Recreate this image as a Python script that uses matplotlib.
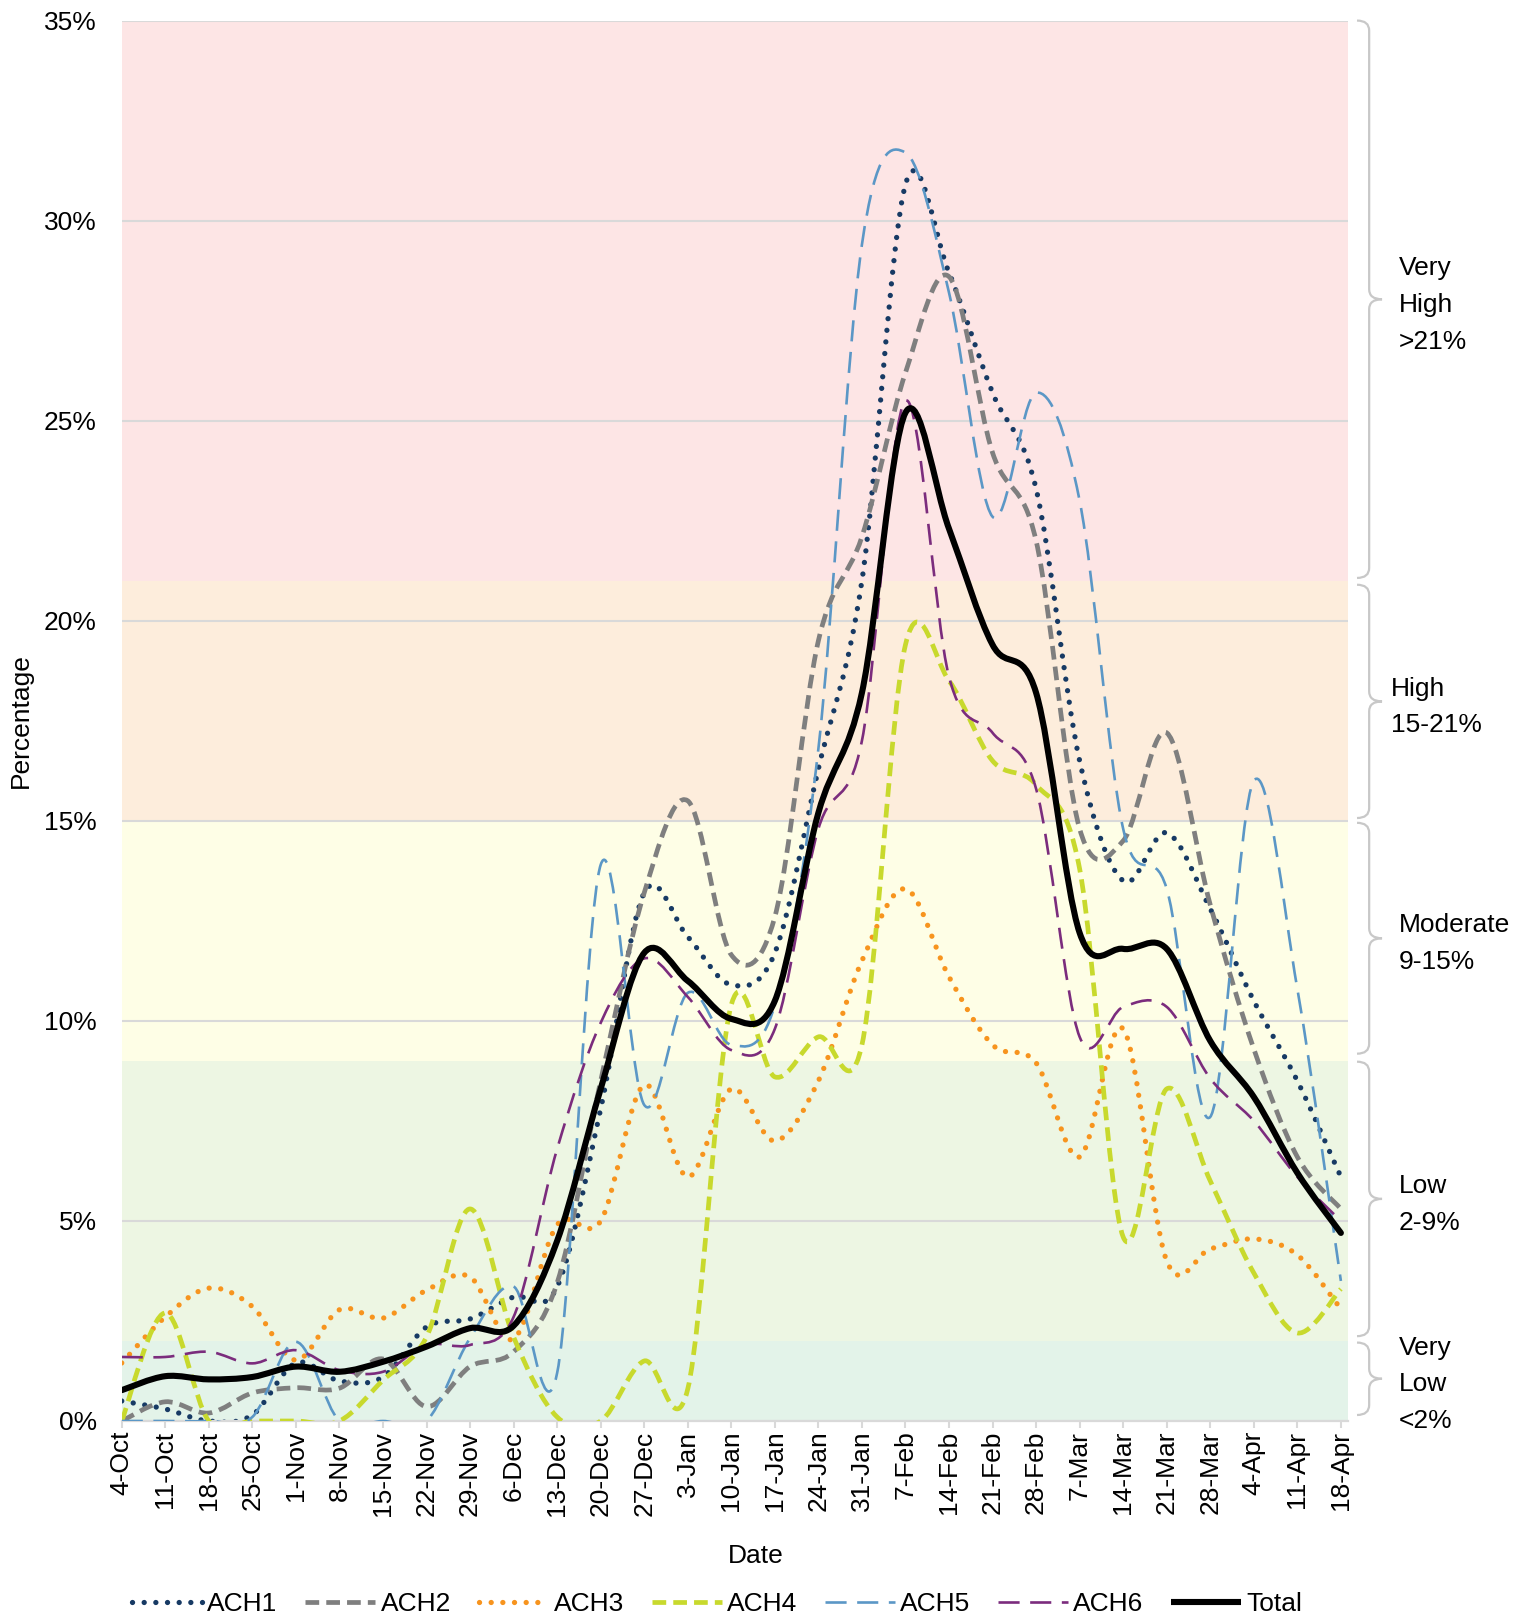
import numpy as np
import matplotlib.pyplot as plt
from matplotlib.path import Path
from matplotlib.patches import PathPatch
from matplotlib.lines import Line2D
from matplotlib.transforms import blended_transform_factory

plt.rcParams['font.family'] = ['Liberation Sans', 'DejaVu Sans']
FS = 19

# ── Data (weekly % positivity) ────────────────────────────────────────────────
dates = ['4-Oct', '11-Oct', '18-Oct', '25-Oct', '1-Nov', '8-Nov', '15-Nov', '22-Nov',
         '29-Nov', '6-Dec', '13-Dec', '20-Dec', '27-Dec', '3-Jan', '10-Jan', '17-Jan',
         '24-Jan', '31-Jan', '7-Feb', '14-Feb', '21-Feb', '28-Feb', '7-Mar', '14-Mar',
         '21-Mar', '28-Mar', '4-Apr', '11-Apr', '18-Apr']

ach1 = [0.5, 0.3, 0.0, 0.15, 1.45, 1.0, 1.1, 2.35, 2.55, 3.1, 3.35, 7.8, 13.2, 12.1, 10.9,
        11.7, 16.3, 21.0, 30.9, 28.7, 25.7, 23.3, 16.5, 13.5, 14.7, 12.8, 10.5, 8.5, 6.1]
ach2 = [0.0, 0.48, 0.2, 0.7, 0.83, 0.82, 1.55, 0.36, 1.36, 1.73, 3.45, 8.5, 13.2, 15.5, 11.65,
        12.6, 19.5, 22.1, 26.2, 28.6, 24.2, 22.0, 14.8, 14.5, 17.2, 12.9, 9.3, 6.6, 5.3]
ach3 = [1.45, 2.6, 3.32, 2.86, 1.52, 2.78, 2.57, 3.27, 3.6, 2.05, 4.9, 5.0, 8.4, 6.1, 8.3,
        7.0, 8.5, 11.5, 13.3, 11.1, 9.4, 8.95, 6.6, 9.8, 4.0, 4.3, 4.55, 4.15, 2.8]
ach4 = [0.0, 2.7, 0.0, 0.0, 0.0, 0.0, 1.02, 2.1, 5.3, 2.1, 0.1, 0.0, 1.5, 0.8, 10.4,
        8.6, 9.6, 9.4, 19.4, 18.5, 16.5, 15.9, 13.8, 4.6, 8.3, 6.0, 3.7, 2.2, 3.3]
ach5 = [0.0, 0.0, 0.0, 0.1, 1.98, 0.0, 0.0, 0.0, 2.07, 3.36, 1.2, 13.9, 7.9, 10.7, 9.4,
        10.4, 16.8, 29.4, 31.7, 28.2, 22.6, 25.7, 23.0, 14.8, 13.3, 7.6, 16.0, 10.8, 3.5]
ach6 = [1.6, 1.6, 1.73, 1.44, 1.77, 1.27, 1.23, 1.9, 1.9, 2.6, 6.8, 9.95, 11.56, 10.6, 9.27,
        9.8, 14.8, 17.0, 25.5, 18.6, 17.2, 15.8, 9.6, 10.35, 10.35, 8.56, 7.5, 6.1, 5.0]
total = [0.77, 1.12, 1.04, 1.1, 1.36, 1.23, 1.48, 1.86, 2.32, 2.38, 4.5, 8.3, 11.7, 11.0, 10.05,
         10.5, 15.2, 18.2, 25.2, 22.3, 19.4, 18.2, 12.2, 11.8, 11.8, 9.5, 8.1, 6.2, 4.7]

bands = [(0, 2, '#E3F3E9'), (2, 9, '#EDF6E3'), (9, 15, '#FEFEE6'),
         (15, 21, '#FDEDDC'), (21, 35, '#FDE5E5')]
levels = [(21.07, 35.0, 'Very\nHigh\n>21%', 1.0416),
          (15.07, 20.9, 'High\n15-21%', 1.035),
          (9.18, 14.95, 'Moderate\n9-15%', 1.0416),
          (2.12, 8.98, 'Low\n2-9%', 1.0416),
          (0.15, 1.96, 'Very\nLow\n<2%', 1.0416)]

# series styles: (label, values, colour, linewidth pt, dashes, capstyle)
series = [
    ('ACH1', ach1, '#173A64', 3.8, (0, (0.01, 2.2)), 'round'),
    ('ACH2', ach2, '#7F7F7F', 3.4, (0, (2.9, 1.5)), 'butt'),
    ('ACH3', ach3, '#F7941E', 3.8, (0, (0.01, 2.2)), 'round'),
    ('ACH4', ach4, '#C8D92D', 3.4, (0, (2.9, 1.5)), 'butt'),
    ('ACH5', ach5, '#5B97C6', 1.9, (0, (8, 4)), 'butt'),
    ('ACH6', ach6, '#7B2C7D', 1.9, (0, (8, 4)), 'butt'),
    ('Total', total, '#000000', 4.4, '-', 'round'),
]


def smooth_path(vals):
    # Bezier spline through the weekly points (same smoothing the source chart uses)
    pts = np.column_stack([np.arange(len(vals), dtype=float), np.asarray(vals, float)])
    n = len(pts)
    verts, codes = [pts[0]], [Path.MOVETO]
    for i in range(n - 1):
        p0, p1 = pts[max(i - 1, 0)], pts[i]
        p2, p3 = pts[i + 1], pts[min(i + 2, n - 1)]
        verts += [p1 + (p2 - p0) / 6, p2 - (p3 - p1) / 6, p2]
        codes += [Path.CURVE4] * 3
    return Path(verts, codes)


def brace(y0, y1):
    xa, xb, xc, r = 1.0073, 1.0172, 1.0277, 0.25
    mid = (y0 + y1) / 2
    verts = [(xa, y1), (xb, y1), (xb, y1 - r), (xb, mid + r), (xb, mid), (xc, mid),
             (xb, mid), (xb, mid - r), (xb, y0 + r), (xb, y0), (xa, y0)]
    codes = [Path.MOVETO, Path.CURVE3, Path.CURVE3, Path.LINETO, Path.CURVE3, Path.CURVE3,
             Path.CURVE3, Path.CURVE3, Path.LINETO, Path.CURVE3, Path.CURVE3]
    return Path(verts, codes)


fig = plt.figure(figsize=(15.24, 16.16), dpi=100)
ax = fig.add_axes([0.07986, 0.12067, 0.8047, 0.8666])

for lo, hi, c in bands:
    ax.axhspan(lo, hi, color=c, lw=0, zorder=0.1)

ax.set_axisbelow(True)
ax.yaxis.grid(True, color='#D9D9D9', lw=1.5)

handles = []
for i, (lab, vals, col, lw, ls, cap) in enumerate(series):
    patch = PathPatch(smooth_path(vals), fill=False, edgecolor=col, lw=lw,
                      linestyle=ls, zorder=2 + i)
    patch.set_capstyle(cap)
    patch.set_joinstyle('round')
    ax.add_patch(patch)
    handles.append(Line2D([], [], color=col, lw=lw, linestyle=ls,
                          dash_capstyle=cap, solid_capstyle='butt', label=lab))

ax.set_xlim(0, 28.165)
ax.set_ylim(0, 35)
ax.set_xticks(range(len(dates)))
ax.set_xticklabels(dates, rotation=90, fontsize=FS)
ax.set_yticks(range(0, 36, 5))
ax.set_yticklabels([f'{v}%' for v in range(0, 36, 5)], fontsize=FS)
ax.tick_params(axis='y', length=0, pad=18)
ax.tick_params(axis='x', length=5, width=1.5, color='#D9D9D9', pad=2)
for s in ['top', 'right', 'left']:
    ax.spines[s].set_visible(False)
ax.spines['bottom'].set_color('#D9D9D9')
ax.spines['bottom'].set_linewidth(1.6)

# risk level braces and labels on the right
trans = blended_transform_factory(ax.transAxes, ax.transData)
for lo, hi, txt, xt in levels:
    ax.add_patch(PathPatch(brace(lo, hi), fill=False, edgecolor='#C8C8C8', lw=1.6,
                           transform=trans, clip_on=False))
    ax.text(xt, (lo + hi) / 2 - 0.14, txt, transform=trans, ha='left', va='center',
            fontsize=FS, linespacing=1.67)

fig.text(0.0138, 0.5538, 'Percentage', rotation=90, ha='center', va='center', fontsize=FS)
fig.text(0.496, 0.0370, 'Date', ha='center', va='center', fontsize=FS)

fig.legend(handles=handles, loc='center', bbox_to_anchor=(0.4706, 0.0072), ncol=7,
           frameon=False, fontsize=FS, handlelength=2.65, handletextpad=0.2,
           columnspacing=1.05)

fig.savefig('out.png', dpi=100)
